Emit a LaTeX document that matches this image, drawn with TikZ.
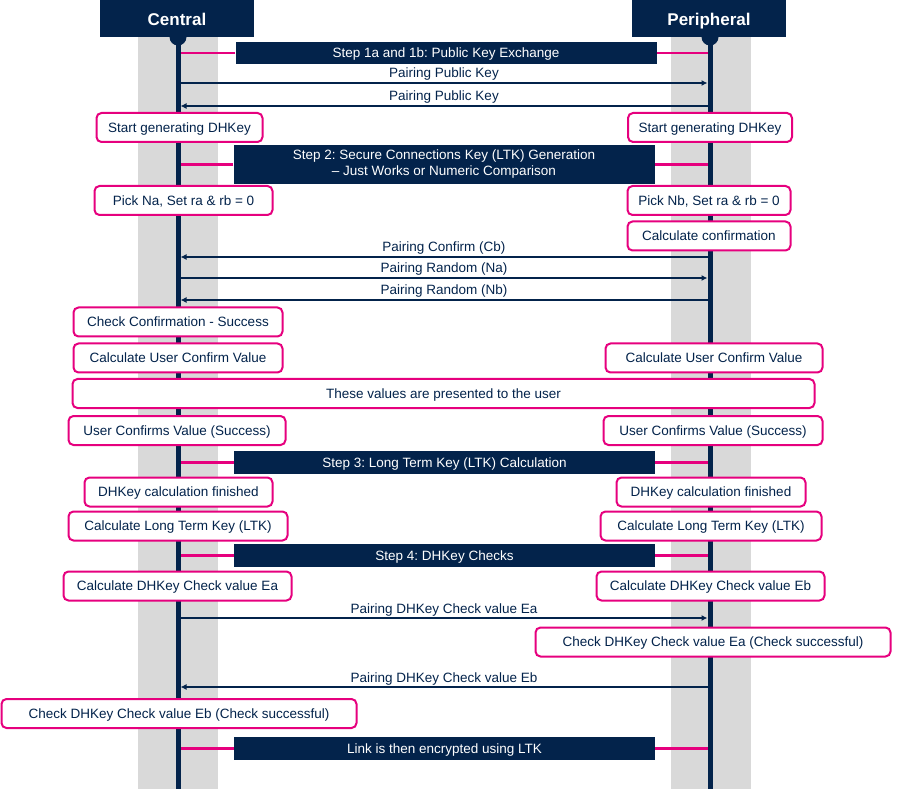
\documentclass[tikz,border=0pt]{standalone}
\usepackage{fontspec}
\setmainfont{Liberation Sans}
\usepackage{xcolor}
\usetikzlibrary{arrows.meta, positioning}

\definecolor{stnavy}{HTML}{03234B}
\definecolor{stpink}{HTML}{E6007E}
\definecolor{bandgrey}{HTML}{D9D9D9}

\begin{document}
\frenchspacing
\begin{tikzpicture}[x=1pt, y=-1pt,
    font=\fontsize{13.5}{16}\selectfont,
    header/.style={fill=stnavy, text=white, minimum width=154pt, minimum height=37pt, inner sep=0pt, text height=12.2pt, text depth=0pt, font=\fontsize{17}{20}\selectfont\bfseries},
    stepbox/.style={fill=stnavy, text=white, minimum width=421pt, inner sep=0pt, align=center},
    oneline/.style={text height=10pt, text depth=0.5pt},
    action/.style={draw=stpink, line width=2pt, rounded corners=5pt, fill=white, text=stnavy, minimum height=29pt, inner xsep=8pt, oneline},
    msg/.style={-{Latex[length=6pt, width=6pt]}, stnavy, line width=1.4pt},
    msglabel/.style={text=stnavy, inner sep=1.5pt},
    link/.style={stpink, line width=2.5pt},
    lifeline/.style={stnavy, line width=5pt}]
    \useasboundingbox (0,0) rectangle (900,794);
    % Grey bands
    \fill[bandgrey] (138,37) rectangle (218,789);
    \fill[bandgrey] (671,37) rectangle (751,789);
    % Headers
    \node (cen) [header] at (177,19) {Central};
    \node (per) [header] at (709,19) {Peripheral};
    \coordinate (cenend) at (178,789);
    \coordinate (perend) at (710,789);
    \coordinate (centop) at (178,37);
    \coordinate (pertop) at (710,37);
    % Step boxes
    \node (step1) [stepbox, oneline, minimum height=22pt] at (446,53) {Step 1a and 1b: Public Key Exchange};
    \node (step2) [stepbox, minimum height=39pt] at (444,164.5) {Step 2: Secure Connections Key (LTK) Generation\\ -- Just Works or Numeric Comparison};
    \node (step3) [stepbox, oneline, minimum height=23pt] at (444.5,462.5) {Step 3: Long Term Key (LTK) Calculation};
    \node (step4) [stepbox, oneline, minimum height=23pt] at (444.5,555.5) {Step 4: DHKey Checks};
    \node (enc) [stepbox, oneline, minimum height=23pt] at (444.5,748.5) {Link is then encrypted using LTK};
    % Links to the lifelines
    \foreach \s in {step1, step2, step3, step4, enc} {
        \draw[link] (\s.west) -- (\s.west -| centop);
        \draw[link] (\s.east) -- (\s.east -| pertop);
    }
    % Messages
    \draw[msg, shorten >=2.5pt] (centop |- 0,83) -- node[above, msglabel] {Pairing Public Key} (pertop |- 0,83);
    \draw[msg, shorten >=2.5pt] (pertop |- 0,106) -- node[above, msglabel] {Pairing Public Key} (centop |- 0,106);
    \draw[msg, shorten >=2.5pt] (pertop |- 0,257) -- node[above, msglabel] {Pairing Confirm (Cb)} (centop |- 0,257);
    \draw[msg, shorten >=2.5pt] (centop |- 0,278) -- node[above, msglabel] {Pairing Random (Na)} (pertop |- 0,278);
    \draw[msg, shorten >=2.5pt] (pertop |- 0,300) -- node[above, msglabel] {Pairing Random (Nb)} (centop |- 0,300);
    \draw[msg, shorten >=2.5pt] (centop |- 0,618) -- node[above, msglabel] {Pairing DHKey Check value Ea} (pertop |- 0,618);
    \draw[msg, shorten >=2.5pt] (pertop |- 0,687) -- node[above, msglabel] {Pairing DHKey Check value Eb} (centop |- 0,687);
    % Lifelines
    \draw[lifeline] (centop) -- (cenend);
    \draw[lifeline] (pertop) -- (perend);
    \fill[stnavy] (centop) circle (8.5pt);
    \fill[stnavy] (pertop) circle (8.5pt);
    \node[header] at (cen) {Central};
    \node[header] at (per) {Peripheral};
    % Actions
    \node (sgc) [action, minimum width=166pt] at (179.5,127.5) {Start generating DHKey};
    \node (sgp) [action, minimum width=164pt] at (710,127.5) {Start generating DHKey};
    \node (pna) [action, minimum width=178pt] at (183.5,200.5) {Pick Na, Set ra \& rb = 0};
    \node (pnb) [action, minimum width=163pt] at (709,200.5) {Pick Nb, Set ra \& rb = 0};
    \node (cconf) [action, minimum width=163pt] at (709,236) {Calculate confirmation};
    \node (chk) [action, minimum width=209pt] at (178,322) {Check Confirmation - Success};
    \node (ucc) [action, minimum width=209pt] at (178,358) {Calculate User Confirm Value};
    \node (ucp) [action, minimum width=217pt] at (714,358) {Calculate User Confirm Value};
    \node (pres) [action, minimum width=742pt] at (443.5,393.5) {These values are presented to the user};
    \node (uvc) [action, minimum width=217pt] at (177,430.5) {User Confirms Value (Success)};
    \node (uvp) [action, minimum width=219pt] at (713,430.5) {User Confirms Value (Success)};
    \node (dhc) [action, minimum width=188pt] at (178.5,492) {DHKey calculation finished};
    \node (dhp) [action, minimum width=189pt] at (711,492) {DHKey calculation finished};
    \node (ltkc) [action, minimum width=219pt] at (178,526) {Calculate Long Term Key (LTK)};
    \node (ltkp) [action, minimum width=221pt] at (711,526) {Calculate Long Term Key (LTK)};
    \node (eac) [action, minimum width=228pt] at (177.5,586) {Calculate DHKey Check value Ea};
    \node (ebp) [action, minimum width=228pt] at (710.5,586) {Calculate DHKey Check value Eb};
    \node (chea) [action, minimum width=355pt] at (713,642) {Check DHKey Check value Ea (Check successful)};
    \node (cheb) [action, minimum width=355pt] at (179,713.5) {Check DHKey Check value Eb (Check successful)};
\end{tikzpicture}
\end{document}
